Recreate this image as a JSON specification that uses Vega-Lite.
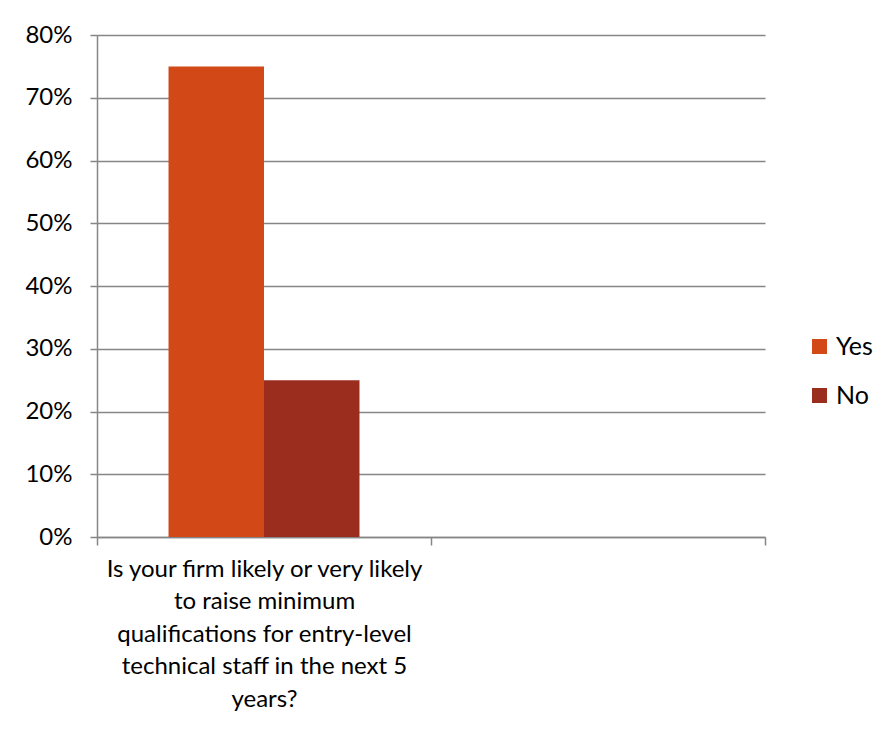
{
  "$schema": "https://vega.github.io/schema/vega-lite/v6.json",
  "width": 668,
  "height": 502,
  "autosize": "none",
  "padding": {"left": 97, "top": 35, "right": 116, "bottom": 192},
  "background": "white",
  "data": {
    "values": [
      {"question": "Q1", "answer": "Yes", "share": 0.75},
      {"question": "Q1", "answer": "No", "share": 0.25},
      {"question": "Q2", "answer": "Yes", "share": null},
      {"question": "Q2", "answer": "No", "share": null}
    ]
  },
  "mark": {"type": "bar"},
  "encoding": {
    "x": {
      "field": "question",
      "type": "nominal",
      "sort": ["Q1", "Q2"],
      "scale": {"paddingInner": 0, "paddingOuter": 0},
      "axis": {
        "title": null,
        "labelAngle": 0,
        "labelExpr": "datum.value == 'Q1' ? ['Is your firm likely or very likely', 'to raise minimum', 'qualifications for entry-level', 'technical staff in the next 5', 'years?'] : ''",
        "labelLimit": 0,
        "labelFontSize": 24,
        "labelLineHeight": 32.5,
        "labelPadding": 12,
        "labelBaseline": "top",
        "tickBand": "extent",
        "tickSize": 8,
        "grid": false
      }
    },
    "xOffset": {
      "field": "answer",
      "type": "nominal",
      "sort": ["Yes", "No"],
      "scale": {"paddingInner": 0, "paddingOuter": 0.749}
    },
    "y": {
      "field": "share",
      "type": "quantitative",
      "scale": {"domain": [0, 0.8], "nice": false},
      "axis": {
        "title": null,
        "format": ".0%",
        "values": [0, 0.1, 0.2, 0.3, 0.4, 0.5, 0.6, 0.7, 0.8],
        "tickSize": 7,
        "labelPadding": 18,
        "labelFontSize": 24,
        "grid": true
      }
    },
    "color": {
      "field": "answer",
      "type": "nominal",
      "sort": ["Yes", "No"],
      "scale": {"domain": ["Yes", "No"], "range": ["#D34817", "#9B2D1F"]},
      "legend": {
        "title": null,
        "orient": "none",
        "legendX": 710,
        "legendY": 299,
        "symbolType": "square",
        "symbolSize": 225,
        "symbolStrokeWidth": 0,
        "symbolOpacity": 1,
        "labelFontSize": 25,
        "labelOffset": 4,
        "rowPadding": 23
      }
    }
  },
  "config": {
    "font": "Lato",
    "view": {"stroke": null},
    "axis": {
      "domainColor": "#868686",
      "tickColor": "#868686",
      "gridColor": "#868686",
      "domainWidth": 1.5,
      "tickWidth": 1.5,
      "gridWidth": 1.5,
      "labelFont": "Lato",
      "labelColor": "#000000"
    },
    "legend": {"labelFont": "Lato", "labelColor": "#000000"}
  }
}
